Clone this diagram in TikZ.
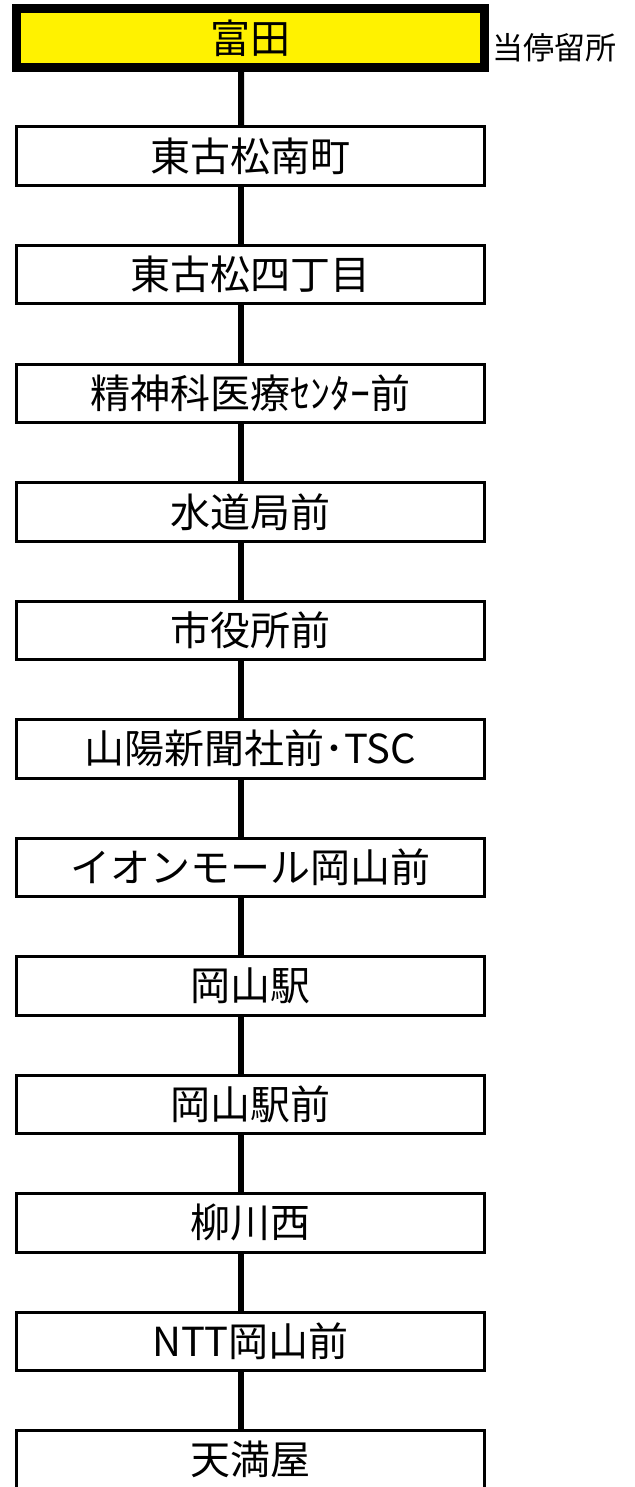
\documentclass[tikz,border=0pt]{standalone}
\usepackage{fontspec}
\setmainfont{Noto Sans CJK JP}
\usepackage{tikz}

\tikzset{
  busstop/.style = {draw, fill = white, line width = 3pt, minimum width = 468pt, minimum height = 58.5pt,
    inner sep = 0pt, outer sep = 0pt, font = \fontsize{40}{48}\selectfont},
  curstop/.style = {busstop, line width = 9pt, fill = yellow},
  link/.style = {line width = 6pt}
}

\begin{document}
\begin{tikzpicture}[x = 1pt, y = -1pt]
  \useasboundingbox (0, 0) rectangle (634, 1487);
  \clip (0, 0) rectangle (634, 1487);
  \node[curstop] at (250.75, 38) (s1) {富田};
  \node[anchor = west, inner sep = 0pt, font = \fontsize{31}{36}\selectfont] at (492, 48) (here) {当停留所};
  \foreach \name [count = \i from 2] in {東古松南町, 東古松四丁目, 精神科医療ｾﾝﾀｰ前, 水道局前, 市役所前,
    山陽新聞社前･TSC, イオンモール岡山前, 岡山駅, 岡山駅前, 柳川西, NTT岡山前, 天満屋}
  {
  \node[busstop] at (250.5, {37.75 + 118.5*(\i - 1)}) (s\i) {\name};
  }
  \foreach \i [evaluate = \i as \j using int(\i + 1)] in {1, ..., 12}
  {
  \draw[link] ([xshift = -9.5pt]s\i.south) -- ([xshift = -9.5pt]s\j.north);
  }
\end{tikzpicture}
\end{document}
